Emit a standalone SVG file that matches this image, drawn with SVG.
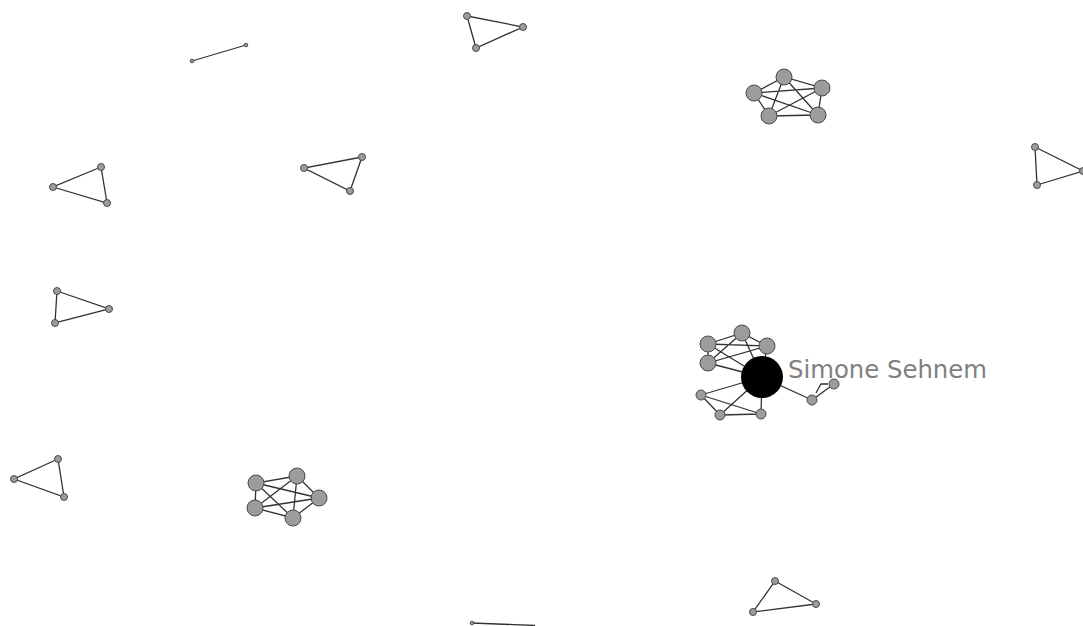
<svg xmlns="http://www.w3.org/2000/svg" width="1083" height="626" viewBox="0 0 1083 626">
<style>
.e{stroke:#333333;stroke-width:1.3;fill:none}
.n{fill:#9c9c9c;stroke:#4a4a4a;stroke-width:1}
.lbl{font-family:"DejaVu Sans","Verdana",sans-serif;font-size:24px;fill:#808080}
</style>
<rect width="1083" height="626" fill="#ffffff"/>
<g id="connectors">
<line class="e" x1="192" y1="61" x2="246" y2="45"/>
<polygon class="e" points="467,16 523,27 476,48"/>
<path class="e" d="M784,77L754,93L769,116L818,115L822,88Z M754,93L822,88 M754,93L818,115 M784,77L769,116 M784,77L818,115 M822,88L769,116"/>
<polygon class="e" points="1035,147 1083,171 1037,185"/>
<polygon class="e" points="101,167 53,187 107,203"/>
<polygon class="e" points="362,157 304,168 350,191"/>
<polygon class="e" points="57,291 109,309 55,323"/>
<polygon class="e" points="58,459 14,479 64,497"/>
<path class="e" d="M297,476L256,483L255,508L293,518L319,498Z M256,483L319,498 M256,483L293,518 M297,476L255,508 M297,476L293,518 M319,498L255,508"/>
<polygon class="e" points="775,581 816,604 753,612"/>
<line class="e" x1="472" y1="623" x2="535" y2="625.5"/>
<path class="e" d="M708,344L742,333L767,346L708,363Z M708,344L767,346 M742,333L708,363 M708,344L762,377 M742,333L762,377 M767,346L762,377 M708,363L762,377"/>
<path class="e" d="M701,395L762,377 M701,395L720,415 M701,395L761,414 M720,415L762,377 M720,415L761,414 M761,414L762,377"/>
<path class="e" d="M762,377L812,400 M812,400L834,384 M816,393L821,384L828,384"/>
</g>
<g id="n-top-line-a"><circle class="n" cx="192" cy="61" r="1.8"/></g>
<g id="n-top-line-b"><circle class="n" cx="246" cy="45" r="1.8"/></g>
<g id="n-tt-1"><circle class="n" cx="467" cy="16" r="3.5"/></g>
<g id="n-tt-2"><circle class="n" cx="523" cy="27" r="3.5"/></g>
<g id="n-tt-3"><circle class="n" cx="476" cy="48" r="3.5"/></g>
<g id="n-p1-1"><circle class="n" cx="784" cy="77" r="8"/></g>
<g id="n-p1-2"><circle class="n" cx="754" cy="93" r="8"/></g>
<g id="n-p1-3"><circle class="n" cx="822" cy="88" r="8"/></g>
<g id="n-p1-4"><circle class="n" cx="769" cy="116" r="8"/></g>
<g id="n-p1-5"><circle class="n" cx="818" cy="115" r="8"/></g>
<g id="n-rt-1"><circle class="n" cx="1035" cy="147" r="3.5"/></g>
<g id="n-rt-2"><circle class="n" cx="1083" cy="171" r="3.5"/></g>
<g id="n-rt-3"><circle class="n" cx="1037" cy="185" r="3.5"/></g>
<g id="n-la-1"><circle class="n" cx="101" cy="167" r="3.5"/></g>
<g id="n-la-2"><circle class="n" cx="53" cy="187" r="3.5"/></g>
<g id="n-la-3"><circle class="n" cx="107" cy="203" r="3.5"/></g>
<g id="n-lb-1"><circle class="n" cx="362" cy="157" r="3.5"/></g>
<g id="n-lb-2"><circle class="n" cx="304" cy="168" r="3.5"/></g>
<g id="n-lb-3"><circle class="n" cx="350" cy="191" r="3.5"/></g>
<g id="n-lc-1"><circle class="n" cx="57" cy="291" r="3.5"/></g>
<g id="n-lc-2"><circle class="n" cx="109" cy="309" r="3.5"/></g>
<g id="n-lc-3"><circle class="n" cx="55" cy="323" r="3.5"/></g>
<g id="n-ld-1"><circle class="n" cx="58" cy="459" r="3.5"/></g>
<g id="n-ld-2"><circle class="n" cx="14" cy="479" r="3.5"/></g>
<g id="n-ld-3"><circle class="n" cx="64" cy="497" r="3.5"/></g>
<g id="n-p2-1"><circle class="n" cx="297" cy="476" r="8"/></g>
<g id="n-p2-2"><circle class="n" cx="256" cy="483" r="8"/></g>
<g id="n-p2-3"><circle class="n" cx="319" cy="498" r="8"/></g>
<g id="n-p2-4"><circle class="n" cx="255" cy="508" r="8"/></g>
<g id="n-p2-5"><circle class="n" cx="293" cy="518" r="8"/></g>
<g id="n-br-1"><circle class="n" cx="775" cy="581" r="3.5"/></g>
<g id="n-br-2"><circle class="n" cx="816" cy="604" r="3.5"/></g>
<g id="n-br-3"><circle class="n" cx="753" cy="612" r="3.5"/></g>
<g id="n-bl-1"><circle class="n" cx="472" cy="623" r="1.8"/></g>
<g id="n-m-1"><circle class="n" cx="708" cy="344" r="8"/></g>
<g id="n-m-2"><circle class="n" cx="742" cy="333" r="8"/></g>
<g id="n-m-3"><circle class="n" cx="767" cy="346" r="8"/></g>
<g id="n-m-4"><circle class="n" cx="708" cy="363" r="8"/></g>
<g id="n-m-5"><circle class="n" cx="701" cy="395" r="5"/></g>
<g id="n-m-6"><circle class="n" cx="720" cy="415" r="5"/></g>
<g id="n-m-7"><circle class="n" cx="761" cy="414" r="5"/></g>
<g id="n-m-8"><circle class="n" cx="812" cy="400" r="5"/></g>
<g id="n-m-9"><circle class="n" cx="834" cy="384" r="5"/></g>
<g id="n-simone"><circle cx="762" cy="377" r="21" fill="#000000"/>
<text class="lbl" x="788" y="378" textLength="199" lengthAdjust="spacingAndGlyphs">Simone Sehnem</text></g>
</svg>
